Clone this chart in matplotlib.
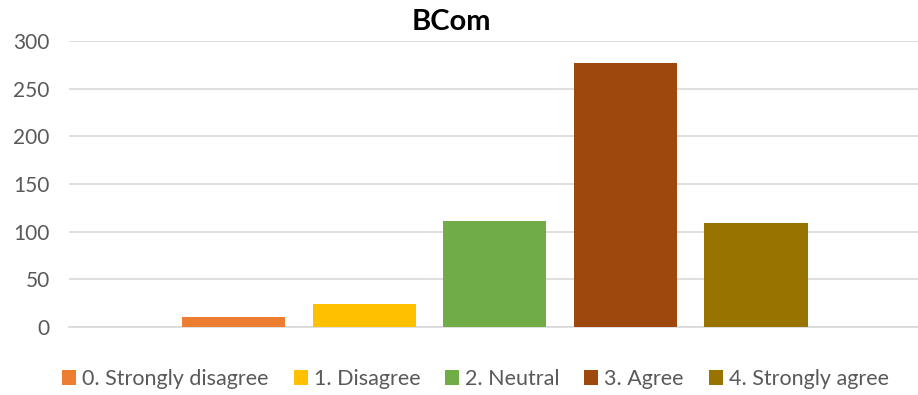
import matplotlib
matplotlib.use("Agg")
import matplotlib.pyplot as plt
import numpy as np

plt.rcParams['font.family'] = ['Lato', 'DejaVu Sans']

# one category (BCom), five response series
labels = ["0. Strongly disagree", "1. Disagree", "2. Neutral", "3. Agree", "4. Strongly agree"]
counts = [10, 24, 111, 277, 109]
colors = ["#ED7D31", "#FFC000", "#70AD47", "#9E480E", "#997300"]

fig = plt.figure(figsize=(9.18, 3.95), dpi=100)
ax = fig.add_axes([0.0752, 0.1722, 0.9248, 0.724])

x = np.arange(len(counts))
for i in range(len(counts)):
    ax.bar(x[i], counts[i], width=0.79, color=colors[i], label=labels[i], zorder=3)

ax.set_xlim(-1.26, 5.24)
ax.set_ylim(0, 300)
ax.set_yticks(np.arange(0, 301, 50))
ax.set_xticks([])
ax.grid(axis='y', color='#D9D9D9', linewidth=1.2, zorder=0)
for s in ['top', 'right', 'left']:
    ax.spines[s].set_visible(False)
ax.spines['bottom'].set_color('#D9D9D9')
ax.spines['bottom'].set_linewidth(1.2)
ax.tick_params(axis='y', length=0, pad=14, labelsize=15, labelcolor='#595959')

fig.text(0.492, 0.945, "BCom", ha='center', va='center', fontsize=21, fontweight='bold', color='black')

leg = fig.legend(loc='center', bbox_to_anchor=(0.518, 0.04), ncol=5, frameon=False,
                 fontsize=15.5, handlelength=0.65, handleheight=0.65, handletextpad=0.28,
                 columnspacing=1.15)
for t in leg.get_texts():
    t.set_color('#595959')

fig.savefig("out.png", dpi=100)
